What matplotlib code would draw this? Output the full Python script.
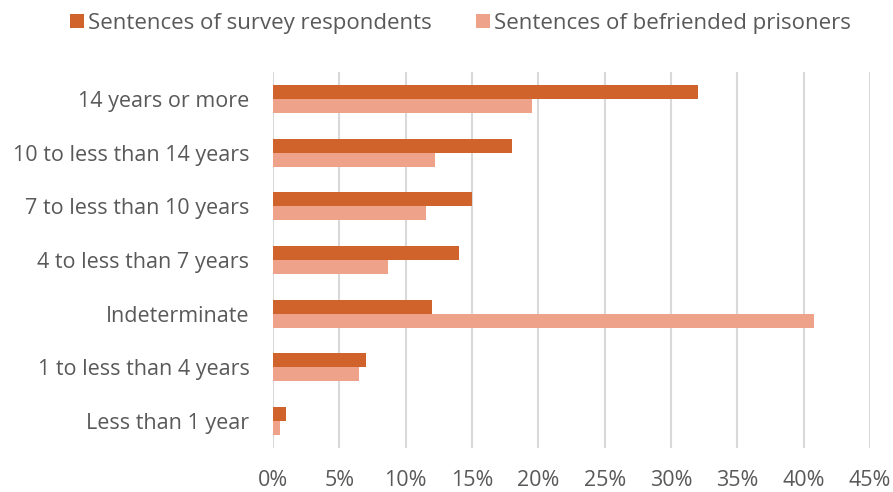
import matplotlib
matplotlib.use("Agg")
import matplotlib.pyplot as plt
import numpy as np
from matplotlib.ticker import FuncFormatter, MultipleLocator

plt.rcParams['font.family'] = ['Open Sans', 'DejaVu Sans']

categories = [
    "14 years or more",
    "10 to less than 14 years",
    "7 to less than 10 years",
    "4 to less than 7 years",
    "Indeterminate",
    "1 to less than 4 years",
    "Less than 1 year",
]
survey_respondents = [32.0, 18.0, 15.0, 14.0, 12.0, 7.0, 1.0]
befriended_prisoners = [19.5, 12.2, 11.5, 8.7, 40.8, 6.5, 0.5]
series_names = ["Sentences of survey respondents", "Sentences of befriended prisoners"]

dark = "#D0632C"
light = "#EFA28A"
text_color = "#595959"
grid_color = "#D9D9D9"

fig = plt.figure(figsize=(8.93, 4.92), dpi=100)
ax = fig.add_axes([273 / 893, 1 - 448 / 492, (870 - 273) / 893, (448 - 72) / 492])

y = np.arange(len(categories))
h = 0.26
ax.barh(y - h / 2, survey_respondents, height=h, color=dark, label=series_names[0], zorder=3)
ax.barh(y + h / 2, befriended_prisoners, height=h, color=light, label=series_names[1], zorder=3)

ax.set_ylim(len(categories) - 0.5, -0.5)
ax.set_xlim(0, 45)
ax.xaxis.set_major_locator(MultipleLocator(5))
ax.xaxis.set_major_formatter(FuncFormatter(lambda v, p: f"{v:.0f}%"))
ax.set_yticks(y)
ax.set_yticklabels(categories)

ax.grid(axis="x", color=grid_color, linewidth=1.5, zorder=0)
for s in ax.spines.values():
    s.set_visible(False)
ax.tick_params(axis="both", length=0, labelsize=15.5, labelcolor=text_color)
ax.tick_params(axis="y", pad=17)
ax.tick_params(axis="x", pad=16)

fig.legend(loc="upper center", bbox_to_anchor=(0.516, 1.015), ncol=2, frameon=False,
           fontsize=16, labelcolor=text_color, handlelength=0.6, handleheight=0.6,
           handletextpad=0.2, columnspacing=2.0)

fig.savefig("out.png", dpi=100)
